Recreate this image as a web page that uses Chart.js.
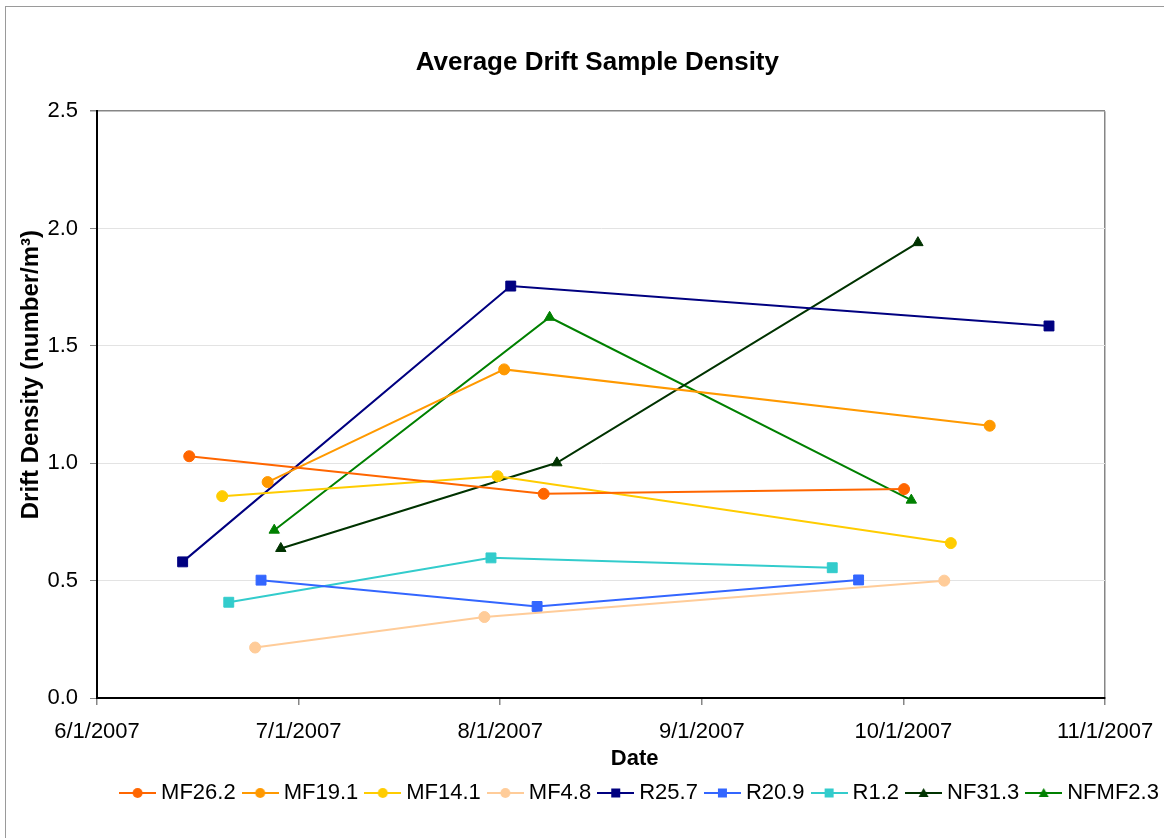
<!DOCTYPE html>
<html lang="en">
<head>
<meta charset="UTF-8">
<title>Average Drift Sample Density</title>
<script src="https://cdn.jsdelivr.net/npm/chart.js"></script>
<style>
  html, body { margin: 0; padding: 0; background: #fff; }
</style>
</head>
<body>
<canvas id="chart" width="1164" height="838"></canvas>
<script>
// x values are days after 6/1/2007
const xTickLabels = ['6/1/2007', '7/1/2007', '8/1/2007', '9/1/2007', '10/1/2007', '11/1/2007'];
const axisDays = 153; // 6/1/2007 -> 11/1/2007

const seriesNames = ['MF26.2', 'MF19.1', 'MF14.1', 'MF4.8', 'R25.7', 'R20.9', 'R1.2', 'NF31.3', 'NFMF2.3'];

const mf262Days = [14.0, 67.8, 122.5];
const mf262Density = [1.03, 0.87, 0.89];
const mf191Days = [25.9, 61.8, 135.5];
const mf191Density = [0.92, 1.40, 1.16];
const mf141Days = [19.0, 60.8, 129.6];
const mf141Density = [0.86, 0.945, 0.66];
const mf48Days = [24.0, 58.8, 128.6];
const mf48Density = [0.215, 0.345, 0.50];
const r257Days = [13.0, 62.8, 144.5];
const r257Density = [0.58, 1.755, 1.585];
const r209Days = [24.9, 66.8, 115.6];
const r209Density = [0.502, 0.39, 0.503];
const r12Days = [20.0, 59.8, 111.6];
const r12Density = [0.408, 0.597, 0.555];
const nf313Days = [27.9, 69.8, 124.6];
const nf313Density = [0.637, 1.002, 1.94];
const nfmf23Days = [26.9, 68.7, 123.6];
const nfmf23Density = [0.715, 1.622, 0.843];

const allDays = [mf262Days, mf191Days, mf141Days, mf48Days, r257Days, r209Days, r12Days, nf313Days, nfmf23Days];
const allDensity = [mf262Density, mf191Density, mf141Density, mf48Density, r257Density, r209Density, r12Density, nf313Density, nfmf23Density];

// look of each series
const colors = ['#FF6600', '#FF9900', '#FFCC00', '#FFCC99', '#000080', '#3366FF', '#33CCCC', '#003300', '#008000'];
const markers = ['circle', 'circle', 'circle', 'circle', 'rect', 'rect', 'rect', 'triangle', 'triangle'];
const markerRadius = { circle: 5.5, rect: 7, triangle: 6 };

Chart.defaults.font.family = "'Liberation Sans', Arial, sans-serif";
Chart.defaults.color = '#000';

function legendIcon(color, style) {
    const c = document.createElement('canvas');
    c.width = 37; c.height = 14;
    const g = c.getContext('2d');
    g.strokeStyle = color;
    g.lineWidth = 2;
    g.beginPath(); g.moveTo(0, 7); g.lineTo(37, 7); g.stroke();
    g.fillStyle = color;
    g.beginPath();
    if (style === 'circle') g.arc(18.5, 7, 5, 0, Math.PI * 2);
    else if (style === 'rect') g.rect(14, 2.5, 9, 9);
    else { g.moveTo(18.5, 2); g.lineTo(23.5, 11); g.lineTo(13.5, 11); g.closePath(); }
    g.fill();
    return c;
}

const datasets = seriesNames.map((name, i) => ({
    label: name,
    data: allDays[i].map((d, j) => ({ x: d, y: allDensity[i][j] })),
    showLine: true,
    borderColor: colors[i],
    backgroundColor: colors[i],
    borderWidth: 2,
    pointStyle: markers[i],
    pointRadius: markerRadius[markers[i]],
    pointBackgroundColor: colors[i],
    pointBorderColor: colors[i],
    pointBorderWidth: 1
}));

const chartBorder = {
    id: 'chartBorder',
    beforeDraw(chart) {
        const ctx = chart.ctx;
        ctx.save();
        ctx.fillStyle = '#fff';
        ctx.fillRect(0, 0, chart.width, chart.height);
        ctx.strokeStyle = '#9a9a9a';
        ctx.lineWidth = 1;
        ctx.strokeRect(5.5, 6.5, 1300, 1000);
        ctx.restore();
    }
};

// Excel centred the legend on a wider chart area than the visible picture
const legendShift = {
    id: 'legendShift',
    afterLayout(chart) {
        const lg = chart.legend;
        const dx = 642 - (lg.left + lg.right) / 2;
        lg.left += dx;
        lg.right += dx;
    }
};

new Chart(document.getElementById('chart'), {
    type: 'scatter',
    data: { datasets: datasets },
    plugins: [chartBorder, legendShift],
    options: {
        responsive: false,
        animation: false,
        devicePixelRatio: 1,
        layout: { padding: { left: 0, right: 59, top: 0, bottom: 24 } },
        plugins: {
            title: {
                display: true,
                text: 'Average Drift Sample Density ',
                fullSize: false,
                color: '#000',
                font: { size: 26, weight: 'bold' },
                padding: { top: 47, bottom: 33 }
            },
            legend: {
                position: 'bottom',
                labels: {
                    usePointStyle: true,
                    pointStyleWidth: 25,
                    padding: 12,
                    color: '#000',
                    font: { size: 22 },
                    generateLabels: chart => chart.data.datasets.map((ds, i) => ({
                        text: ds.label,
                        pointStyle: legendIcon(colors[i], markers[i]),
                        fillStyle: colors[i],
                        strokeStyle: colors[i],
                        lineWidth: 0,
                        hidden: false,
                        datasetIndex: i,
                        fontColor: '#000'
                    }))
                }
            },
            tooltip: { enabled: false }
        },
        scales: {
            x: {
                type: 'linear',
                min: 0,
                max: axisDays,
                afterBuildTicks: s => {
                    s.ticks = xTickLabels.map((_, i) => ({ value: i * axisDays / (xTickLabels.length - 1) }));
                },
                afterFit: s => {
                    s.height = 72;
                    s.paddingLeft = 0;
                    s.paddingRight = 0;
                },
                ticks: {
                    callback: (v, i) => xTickLabels[i],
                    font: { size: 22 },
                    padding: 14,
                    maxRotation: 0,
                    autoSkip: false,
                    color: '#000'
                },
                grid: {
                    color: ctx => ctx.index === xTickLabels.length - 1 ? '#868686' : 'rgba(0,0,0,0)',
                    tickColor: '#868686',
                    tickLength: 7,
                    lineWidth: 1.5
                },
                border: { color: '#000', width: 2 },
                title: {
                    display: true,
                    text: '           Date',
                    color: '#000',
                    font: { size: 22, weight: 'bold', lineHeight: 1 },
                    padding: 0
                }
            },
            y: {
                min: 0,
                max: 2.5,
                afterFit: s => { s.width = 97; },
                ticks: {
                    stepSize: 0.5,
                    callback: v => v.toFixed(1),
                    font: { size: 22 },
                    padding: 12,
                    color: '#000'
                },
                grid: {
                    color: ctx => ctx.tick.value === 2.5 ? '#868686' : '#e3e3e3',
                    lineWidth: ctx => ctx.tick.value === 2.5 ? 1.5 : 1,
                    tickColor: '#868686',
                    tickLength: 7
                },
                border: { color: '#000', width: 2 },
                title: {
                    display: true,
                    text: '         Drift Density (number/m³)',
                    color: '#000',
                    font: { size: 24, weight: 'bold' },
                    padding: { top: 17, bottom: 0 }
                }
            }
        }
    }
});
</script>
</body>
</html>
